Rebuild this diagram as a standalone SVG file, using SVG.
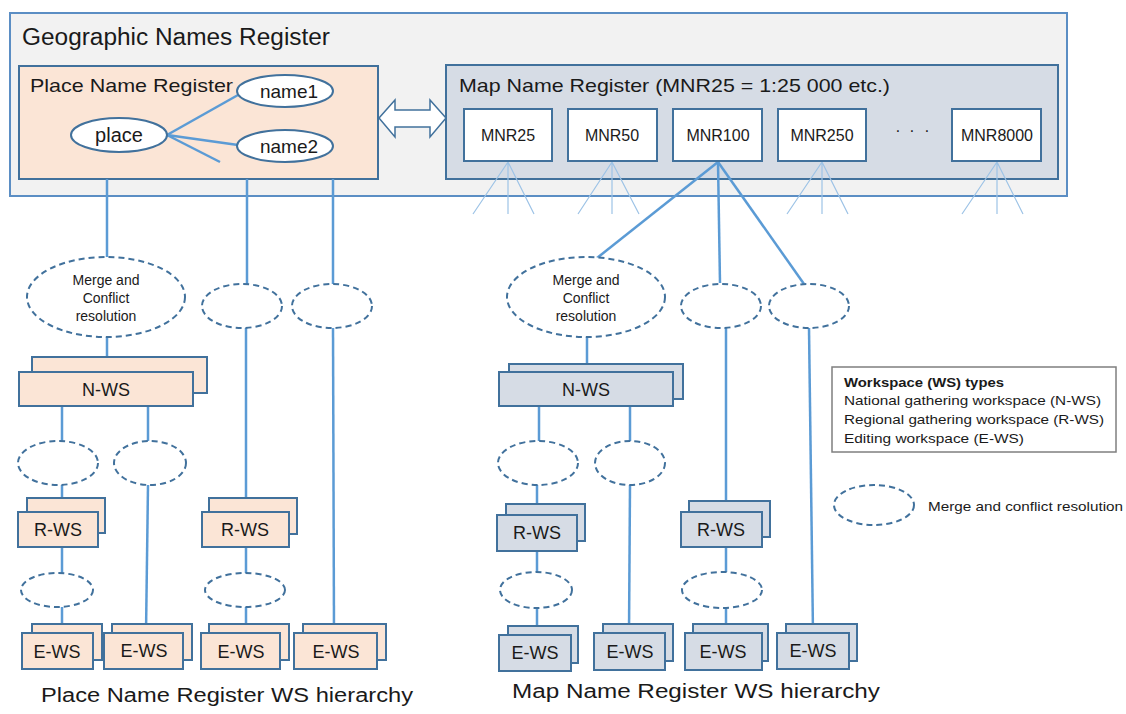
<svg xmlns="http://www.w3.org/2000/svg" width="1126" height="714" viewBox="0 0 1126 714">
<style>
text{font-family:"Liberation Sans",Arial,sans-serif;fill:#1a1a1a}
.box{stroke:#41719c;stroke-width:2}
.pk{fill:#fbe5d6}
.bl{fill:#d6dce5}
.wh{fill:#ffffff}
.ell{fill:#ffffff;stroke:#41719c;stroke-width:2}
.dash{fill:#ffffff;stroke:#41719c;stroke-width:2;stroke-dasharray:6 4}
.ln{stroke:#5b9bd5;stroke-width:2.5;fill:none}
.fan{stroke:#9dc3e6;stroke-width:1.2;fill:none}
.c{text-anchor:middle}
.ws{font-size:18px}
.mg{font-size:14px}
.mnr{font-size:16px}
.lg{font-size:13.5px}
</style>

<g id="geographic-names-register">
<rect x="10" y="13" width="1057" height="183" fill="#f2f2f2" stroke="#5b8ec4" stroke-width="2"/>
<text x="22" y="45" font-size="23" textLength="308" lengthAdjust="spacingAndGlyphs">Geographic Names Register</text>
</g>

<g id="place-name-register">
<rect x="19" y="66" width="359" height="113" class="box pk"/>
<text x="30" y="92" font-size="19" textLength="203" lengthAdjust="spacingAndGlyphs">Place Name Register</text>
</g>

<g id="map-name-register">
<rect x="446" y="65" width="612" height="114" class="box bl"/>
<text x="459" y="92" font-size="19" textLength="431" lengthAdjust="spacingAndGlyphs">Map Name Register (MNR25 = 1:25 000 etc.)</text>
<text x="898" y="136" font-size="16" class="c">·</text>
<text x="912" y="136" font-size="16" class="c">·</text>
<text x="927" y="136" font-size="16" class="c">·</text>
</g>

<g id="link-arrow">
<path d="M379,118 L395,100 L395,110 L430,110 L430,100 L446,118 L430,137 L430,127 L395,127 L395,137 Z" fill="#ffffff" stroke="#41719c" stroke-width="1.5"/>
</g>

<g id="connectors">
<!-- place to names -->
<line class="ln" x1="167" y1="135" x2="238" y2="95"/>
<line class="ln" x1="167" y1="135" x2="238" y2="145"/>
<line class="ln" x1="167" y1="135" x2="220" y2="162"/>
<!-- fans -->
<path class="fan" d="M508,162 L473,214 M508,162 L508,214 M508,162 L534,214"/>
<path class="fan" d="M612,162 L578,214 M612,162 L612,214 M612,162 L639,214"/>
<path class="fan" d="M822,162 L787,214 M822,162 L822,214 M822,162 L848,214"/>
<path class="fan" d="M997,162 L962,214 M997,162 L997,214 M997,162 L1023,214"/>
<!-- MNR100 -->
<line class="ln" x1="718" y1="162" x2="597" y2="258"/>
<line class="ln" x1="718" y1="162" x2="720" y2="283"/>
<line class="ln" x1="718" y1="162" x2="804" y2="284"/>
<!-- place name hierarchy -->
<line class="ln" x1="107" y1="179" x2="107" y2="257"/>
<line class="ln" x1="247" y1="179" x2="247" y2="284"/>
<line class="ln" x1="333" y1="179" x2="333" y2="284"/>
<line class="ln" x1="107" y1="337" x2="107" y2="372"/>
<line class="ln" x1="62" y1="406" x2="62" y2="441"/>
<line class="ln" x1="148" y1="403" x2="148" y2="441"/>
<line class="ln" x1="62" y1="485" x2="62" y2="512"/>
<line class="ln" x1="62" y1="547" x2="62" y2="573"/>
<line class="ln" x1="62" y1="607" x2="62" y2="633"/>
<line class="ln" x1="148" y1="485" x2="146" y2="633"/>
<line class="ln" x1="246" y1="328" x2="246" y2="512"/>
<line class="ln" x1="246" y1="547" x2="246" y2="573"/>
<line class="ln" x1="246" y1="607" x2="246" y2="633"/>
<line class="ln" x1="333" y1="328" x2="334" y2="633"/>
<!-- map name hierarchy -->
<line class="ln" x1="587" y1="337" x2="587" y2="372"/>
<line class="ln" x1="539" y1="406" x2="539" y2="441"/>
<line class="ln" x1="630" y1="406" x2="630" y2="441"/>
<line class="ln" x1="537" y1="485" x2="537" y2="515"/>
<line class="ln" x1="537" y1="551" x2="537" y2="572"/>
<line class="ln" x1="537" y1="607" x2="537" y2="635"/>
<line class="ln" x1="630" y1="485" x2="629" y2="633"/>
<line class="ln" x1="726" y1="328" x2="726" y2="512"/>
<line class="ln" x1="726" y1="547" x2="726" y2="572"/>
<line class="ln" x1="726" y1="608" x2="726" y2="633"/>
<line class="ln" x1="809" y1="328" x2="813" y2="633"/>
</g>

<g id="place-ellipse"><ellipse cx="119" cy="135" rx="48" ry="17" class="ell"/><text x="119" y="142" font-size="20" class="c">place</text></g>
<g id="name1-ellipse"><ellipse cx="285" cy="91" rx="48" ry="16" class="ell"/><text x="289" y="98" font-size="19" class="c">name1</text></g>
<g id="name2-ellipse"><ellipse cx="285" cy="146" rx="48" ry="16" class="ell"/><text x="289" y="153" font-size="19" class="c">name2</text></g>

<g id="mnr25"><rect x="464" y="109" width="88" height="52" class="box wh"/><text x="508" y="141" class="mnr c">MNR25</text></g>
<g id="mnr50"><rect x="568" y="109" width="89" height="52" class="box wh"/><text x="612" y="141" class="mnr c">MNR50</text></g>
<g id="mnr100"><rect x="673" y="109" width="89" height="52" class="box wh"/><text x="718" y="141" class="mnr c">MNR100</text></g>
<g id="mnr250"><rect x="778" y="109" width="88" height="52" class="box wh"/><text x="822" y="141" class="mnr c">MNR250</text></g>
<g id="mnr8000"><rect x="952" y="109" width="89" height="52" class="box wh"/><text x="997" y="141" class="mnr c">MNR8000</text></g>

<!-- Place name hierarchy nodes -->
<g id="p-merge"><ellipse cx="106" cy="297" rx="79" ry="40" class="dash"/>
<text x="106" y="285" class="mg c">Merge and</text><text x="106" y="303" class="mg c">Conflict</text><text x="106" y="321" class="mg c">resolution</text></g>
<g id="p-merge2"><ellipse cx="242" cy="306" rx="40" ry="22" class="dash"/></g>
<g id="p-merge3"><ellipse cx="332" cy="306" rx="40" ry="22" class="dash"/></g>
<g id="p-nws"><rect x="32" y="357" width="175" height="36" class="box pk"/><rect x="19" y="372" width="174" height="34" class="box pk"/><text x="106" y="396" class="ws c">N-WS</text></g>
<g id="p-merge4"><ellipse cx="58" cy="463" rx="40" ry="22" class="dash"/></g>
<g id="p-merge5"><ellipse cx="150" cy="463" rx="36" ry="22" class="dash"/></g>
<g id="p-rws1"><rect x="27" y="498" width="78" height="35" class="box pk"/><rect x="18" y="512" width="80" height="35" class="box pk"/><text x="58" y="536" class="ws c">R-WS</text></g>
<g id="p-rws2"><rect x="209" y="498" width="88" height="36" class="box pk"/><rect x="202" y="512" width="87" height="35" class="box pk"/><text x="245" y="536" class="ws c">R-WS</text></g>
<g id="p-merge6"><ellipse cx="57" cy="590" rx="36" ry="17" class="dash"/></g>
<g id="p-merge7"><ellipse cx="245" cy="590" rx="40" ry="17" class="dash"/></g>
<g id="p-ews1"><rect x="32" y="624" width="70" height="36" class="box pk"/><rect x="22" y="633" width="71" height="36" class="box pk"/><text x="57" y="658" class="ws c">E-WS</text></g>
<g id="p-ews2"><rect x="112" y="624" width="80" height="36" class="box pk"/><rect x="104" y="633" width="79" height="36" class="box pk"/><text x="144" y="657" class="ws c">E-WS</text></g>
<g id="p-ews3"><rect x="209" y="624" width="80" height="36" class="box pk"/><rect x="201" y="633" width="79" height="36" class="box pk"/><text x="241" y="658" class="ws c">E-WS</text></g>
<g id="p-ews4"><rect x="303" y="624" width="83" height="36" class="box pk"/><rect x="294" y="633" width="83" height="36" class="box pk"/><text x="336" y="658" class="ws c">E-WS</text></g>

<!-- Map name hierarchy nodes -->
<g id="m-merge"><ellipse cx="586" cy="297" rx="79" ry="40" class="dash"/>
<text x="586" y="285" class="mg c">Merge and</text><text x="586" y="303" class="mg c">Conflict</text><text x="586" y="321" class="mg c">resolution</text></g>
<g id="m-merge2"><ellipse cx="721" cy="306" rx="40" ry="22" class="dash"/></g>
<g id="m-merge3"><ellipse cx="809" cy="306" rx="40" ry="22" class="dash"/></g>
<g id="m-nws"><rect x="509" y="364" width="174" height="35" class="box bl"/><rect x="499" y="372" width="174" height="34" class="box bl"/><text x="586" y="396" class="ws c">N-WS</text></g>
<g id="m-merge4"><ellipse cx="538" cy="463" rx="40" ry="22" class="dash"/></g>
<g id="m-merge5"><ellipse cx="630" cy="463" rx="35" ry="22" class="dash"/></g>
<g id="m-rws1"><rect x="506" y="504" width="79" height="37" class="box bl"/><rect x="497" y="515" width="80" height="36" class="box bl" stroke-width="2.5"/><text x="537" y="539" class="ws c">R-WS</text></g>
<g id="m-rws2"><rect x="689" y="501" width="81" height="36" class="box bl"/><rect x="681" y="512" width="81" height="35" class="box bl" stroke-width="2.5"/><text x="721" y="536" class="ws c">R-WS</text></g>
<g id="m-merge6"><ellipse cx="536" cy="590" rx="36" ry="18" class="dash"/></g>
<g id="m-merge7"><ellipse cx="722" cy="590" rx="40" ry="18" class="dash"/></g>
<g id="m-ews1"><rect x="508" y="626" width="70" height="37" class="box bl"/><rect x="499" y="635" width="72" height="36" class="box bl" stroke-width="2.5"/><text x="535" y="659" class="ws c">E-WS</text></g>
<g id="m-ews2"><rect x="603" y="624" width="70" height="37" class="box bl"/><rect x="594" y="633" width="71" height="37" class="box bl"/><text x="630" y="658" class="ws c">E-WS</text></g>
<g id="m-ews3"><rect x="693" y="624" width="75" height="37" class="box bl"/><rect x="685" y="633" width="77" height="37" class="box bl" stroke-width="2.5"/><text x="723" y="658" class="ws c">E-WS</text></g>
<g id="m-ews4"><rect x="786" y="624" width="71" height="37" class="box bl"/><rect x="777" y="633" width="72" height="36" class="box bl"/><text x="813" y="657" class="ws c">E-WS</text></g>

<g id="legend">
<rect x="832" y="367" width="284" height="85" fill="#ffffff" stroke="#7f7f7f" stroke-width="1.5"/>
<text x="844" y="387" class="lg" font-weight="bold" textLength="160" lengthAdjust="spacingAndGlyphs">Workspace (WS) types</text>
<text x="844" y="405" class="lg" textLength="257" lengthAdjust="spacingAndGlyphs">National gathering workspace (N-WS)</text>
<text x="844" y="424" class="lg" textLength="260" lengthAdjust="spacingAndGlyphs">Regional gathering workspace (R-WS)</text>
<text x="844" y="443" class="lg" textLength="180" lengthAdjust="spacingAndGlyphs">Editing workspace (E-WS)</text>
</g>
<g id="legend-merge">
<ellipse cx="874" cy="505" rx="40" ry="20" class="dash"/>
<text x="928" y="511" class="lg" textLength="195" lengthAdjust="spacingAndGlyphs">Merge and conflict resolution</text>
</g>

<g id="captions">
<text x="41" y="702" font-size="20" textLength="372" lengthAdjust="spacingAndGlyphs">Place Name Register WS hierarchy</text>
<text x="512" y="698" font-size="20" textLength="368" lengthAdjust="spacingAndGlyphs">Map Name Register WS hierarchy</text>
</g>
</svg>
